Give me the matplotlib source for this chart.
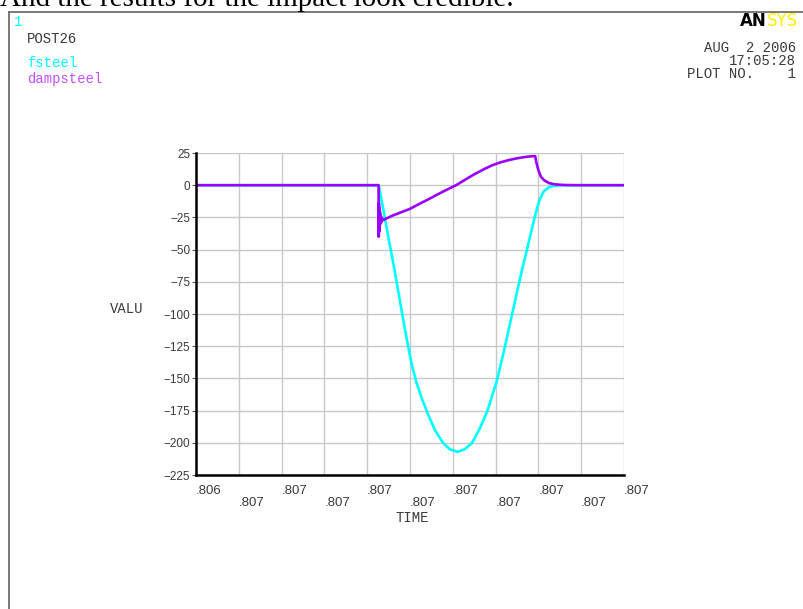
import matplotlib
matplotlib.use("Agg")
import matplotlib.pyplot as plt
from matplotlib.lines import Line2D

# ---- data -------------------------------------------------------------
# fsteel: force in the stiff (undamped) steel contact
fsteel_time = [0.80646, 0.806887, 0.80690, 0.806912, 0.806924, 0.806936,
               0.806945, 0.806955, 0.806964, 0.806974, 0.806987, 0.807001,
               0.807018, 0.807037, 0.807053, 0.807071, 0.807088, 0.807105,
               0.807123, 0.807141, 0.807162, 0.807180, 0.807198, 0.807212,
               0.807223, 0.807239, 0.807252, 0.807262, 0.807272, 0.807285,
               0.807300, 0.807320, 0.80746]
fsteel_valu = [0, 0, -23, -45, -66, -89,
               -106, -124, -139, -152, -165, -177,
               -190, -200, -205, -207, -205, -200,
               -189, -175, -153, -128, -101, -80,
               -64, -42, -24, -12, -5, -1.5,
               -0.3, 0, 0]

# dampsteel: force in the damped steel contact
dampsteel_time = [0.80646, 0.8068866, 0.8068870, 0.8068875, 0.8068880,
                  0.8068886, 0.8068892, 0.8068900, 0.8068910, 0.8068922,
                  0.8068936, 0.8068955, 0.8068980, 0.8069006, 0.8069200,
                  0.8069355, 0.8069590, 0.8069820, 0.8070055, 0.8070370,
                  0.8070677, 0.8070900, 0.8071103, 0.8071320, 0.8071523,
                  0.8071720, 0.8071919, 0.8072120, 0.8072309, 0.8072450,
                  0.8072525, 0.8072550, 0.8072600, 0.8072660, 0.8072735,
                  0.8072850, 0.8073000, 0.8073200, 0.8073450, 0.80746]
dampsteel_valu = [0, 0, -40, -14, -36,
                  -18, -33, -21, -30, -24,
                  -28.5, -26, -27, -26.5, -23.5,
                  -21.5, -18.5, -14.5, -10.5, -5,
                  0, 4.5, 8.5, 12.3, 15.5,
                  17.8, 19.6, 21, 22, 22.5,
                  22.6, 18.0, 11.6, 6.5, 3.8,
                  1.6, 0.6, 0.15, 0, 0]

time_ticks = [0.80646 + i * 0.0001 for i in range(11)]
time_tick_labels = [".806", ".807", ".807", ".807", ".807", ".807",
                    ".807", ".807", ".807", ".807", ".807"]
valu_ticks = [25, 0, -25, -50, -75, -100, -125, -150, -175, -200, -225]

CYAN = "#00ffff"
PURPLE = "#9900ff"
GRID = "#c8c8c8"
TXT = "#3a3a3a"

W, H = 804, 609
fig = plt.figure(figsize=(W / 100, H / 100), dpi=100)
fig.patch.set_facecolor("white")


def fx(px):
    return px / W


def fy(py):
    return 1 - py / H


# ---- page text and frame ---------------------------------------------
fig.text(fx(0), fy(6), "And the results for the impact look credible.",
         family="Liberation Serif", fontsize=21, color="black",
         ha="left", va="baseline")
fig.add_artist(Line2D([fx(9), fx(804)], [fy(12), fy(12)],
                      transform=fig.transFigure, color="#6e6e6e", lw=1.3))
fig.add_artist(Line2D([fx(9.5), fx(9.5)], [fy(12), fy(609)],
                      transform=fig.transFigure, color="#6e6e6e", lw=1.3))

mono = "Liberation Mono"
MS = 10
fig.text(fx(14), fy(22.5), "1", family=mono, fontsize=MS, color=CYAN,
         ha="left", va="center")
fig.text(fx(27), fy(39), "POST26", family=mono, fontsize=MS, color=TXT,
         ha="left", va="center")
fig.text(fx(27), fy(63), "fsteel", family=mono, fontsize=MS, color=CYAN,
         ha="left", va="center")
fig.text(fx(27), fy(79), "dampsteel", family=mono, fontsize=MS,
         color="#c050ff", ha="left", va="center")

fig.text(fx(740), fy(21), "AN", family="DejaVu Sans",
         fontweight="bold", fontsize=12, color="black",
         ha="left", va="center")
fig.text(fx(767), fy(21), "SYS", family="DejaVu Sans", fontsize=12,
         color="#ffee00", ha="left", va="center")
fig.text(fx(796), fy(47.5), "AUG  2 2006", family=mono, fontsize=MS,
         color=TXT, ha="right", va="center")
fig.text(fx(796), fy(61), "17:05:28", family=mono, fontsize=MS,
         color=TXT, ha="right", va="center")
fig.text(fx(796), fy(74), "PLOT NO.    1", family=mono, fontsize=MS,
         color=TXT, ha="right", va="center")

# ---- plot area --------------------------------------------------------
ax_l, ax_r, ax_t, ax_b = 196, 624, 153, 475
ax = fig.add_axes([fx(ax_l), fy(ax_b), (ax_r - ax_l) / W, (ax_b - ax_t) / H])
ax.set_xlim(time_ticks[0], time_ticks[-1])
ax.set_ylim(-225, 25)

ax.set_xticks(time_ticks)
ax.set_yticks(valu_ticks)
ax.grid(True, color=GRID, lw=1.0)
ax.set_axisbelow(True)
for s in ("top", "right"):
    ax.spines[s].set_visible(False)
for s in ("left", "bottom"):
    ax.spines[s].set_linewidth(1.8)
    ax.spines[s].set_color("black")

ax.tick_params(axis="x", length=0, labelbottom=False)
ax.tick_params(axis="y", length=3, width=0.8, color="#555555", pad=1,
               labelsize=8.5, labelcolor=TXT)
ax.set_yticklabels([f"{v}".replace("-", "\u2212") for v in valu_ticks],
                   family="Liberation Sans")

# staggered time labels, alternating between two rows
for i, (t, lab) in enumerate(zip(time_ticks, time_tick_labels)):
    yoff = -16 if i % 2 == 0 else -28
    ax.annotate(lab, xy=(t, 0), xycoords=("data", "axes fraction"),
                xytext=(0, yoff * 0.72), textcoords="offset points",
                family="Liberation Sans", fontsize=9.5, color=TXT,
                ha="left", va="center", annotation_clip=False)

ax.plot(fsteel_time, fsteel_valu, color=CYAN, lw=1.9, solid_joinstyle="round")
ax.plot(dampsteel_time, dampsteel_valu, color=PURPLE, lw=1.9,
        solid_joinstyle="round")

fig.text(fx(412), fy(518), "TIME", family=mono, fontsize=MS, color=TXT,
         ha="center", va="center")
fig.text(fx(110), fy(309), "VALU", family=mono, fontsize=MS, color=TXT,
         ha="left", va="center")

fig.savefig("out.png", dpi=100)
